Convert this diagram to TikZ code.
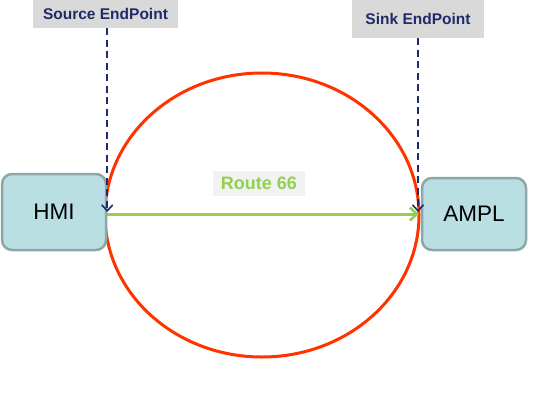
\documentclass[tikz,border=0pt]{standalone}
\usepackage{fontspec}
\setmainfont{Liberation Sans}
\usepackage{tikz}
\usetikzlibrary{ % tikz packages
    positioning,
    arrows.meta
}
\definecolor{navy}{RGB}{31,43,104}
\definecolor{boxfill}{RGB}{185,223,227}
\definecolor{boxline}{RGB}{142,166,168}
\definecolor{tagfill}{RGB}{217,217,217}
\definecolor{routegreen}{RGB}{146,208,80}
\definecolor{routered}{RGB}{255,51,0}
\tikzset{
    endbox/.style={
        draw=boxline, fill=boxfill, line width=2.5pt,
        rounded corners=10pt, minimum width=104pt,
        font=\fontsize{22.5}{26}\selectfont
    },
    tag/.style={
        fill=tagfill, text=navy, inner sep=0pt,
        font=\bfseries\fontsize{15.5}{18}\selectfont
    },
    endline/.style={
        navy, dashed, line width=1.8pt, dash pattern=on 7pt off 4.5pt,
        -{Straight Barb[length=6pt,width=11pt,line width=1.6pt]}
    }
}

\begin{document}
\begin{tikzpicture}[x=1pt,y=-1pt,node distance=420pt,on grid]
            \useasboundingbox (0,0) rectangle (545,407);

            \draw[routered, line width=3pt]
                (262,215) ellipse [x radius=157pt, y radius=142pt];

            \node[endbox, minimum height=76pt] (hmi) at (54,212) {HMI};
            \node[endbox, minimum height=72pt] (ampl) [right=of hmi, yshift=-2pt] {AMPL};

            \node[tag, minimum width=145pt, minimum height=28pt] (src) at (105.5,14) {Source EndPoint};
            \node[tag, minimum width=132pt, minimum height=38pt] (sink) at (418,19) {Sink EndPoint};
            \node[fill=black!5, text=routegreen, inner sep=0pt,
                minimum width=92pt, minimum height=25pt,
                font=\bfseries\fontsize{18}{21}\selectfont] (route) at (259,183.5) {Route 66};

            \draw[routegreen, line width=3pt,
                -{Straight Barb[length=7pt,width=13pt,line width=2.6pt]}]
                (hmi.east |- 0,214) -- ([xshift=-2pt]ampl.west);
            \draw[endline] (src.south -| hmi.east) -- (hmi.east);
            \draw[endline] (sink.south) -- (sink.south |- hmi.east);
        \end{tikzpicture}
\end{document}
